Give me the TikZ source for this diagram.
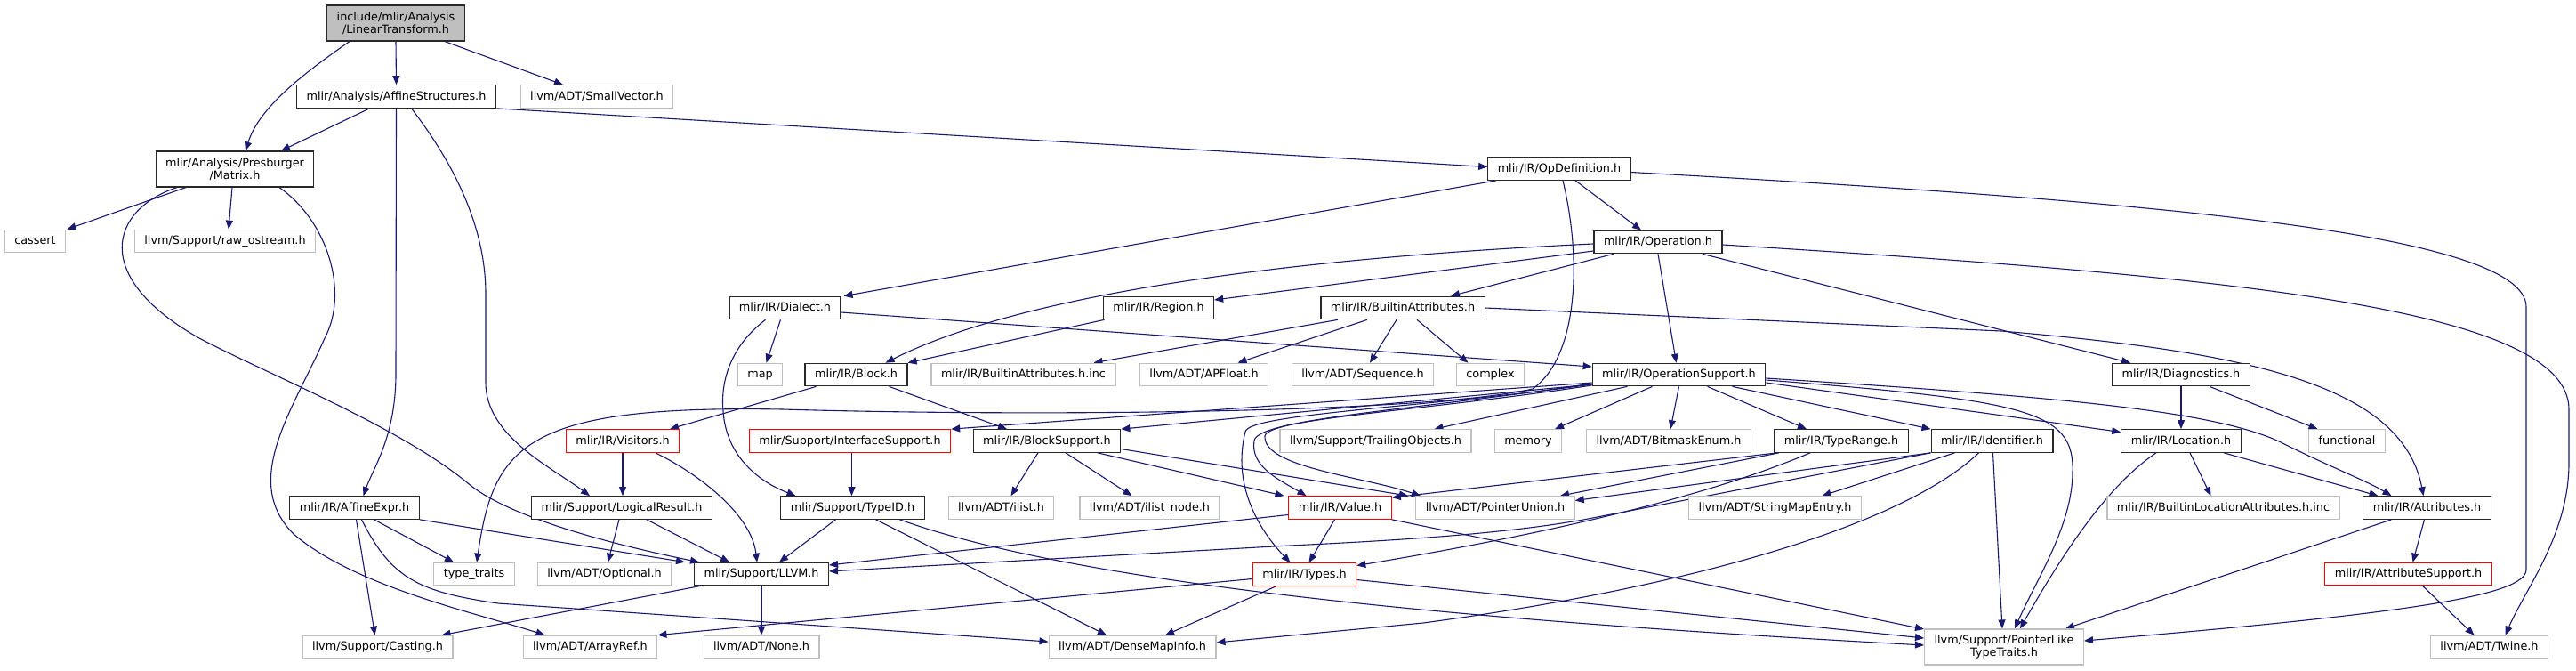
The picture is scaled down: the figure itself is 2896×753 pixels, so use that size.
\documentclass[tikz,border=0pt]{standalone}
\usepackage{fontspec}
\setmainfont{DejaVu Sans}
\usetikzlibrary{arrows.meta}
\definecolor{edgec}{RGB}{25,25,112}
\definecolor{greyb}{RGB}{191,191,191}
\definecolor{nodeb}{RGB}{40,40,40}
\pgfdeclarelayer{bg}
\pgfsetlayers{bg,main}
\begin{document}
\begin{tikzpicture}[x=1pt,y=-1pt,
  nb/.style={draw=nodeb, line width=1.2pt, fill=white, inner xsep=11pt, inner ysep=1pt,
    minimum height=25.5pt, font=\fontsize{12.8}{14.5}\selectfont, align=center, text=black},
  box/.style={nb, text height=9.6pt, text depth=2.6pt},
  ext/.style={box, draw=greyb},
  trunc/.style={box, draw=red},
  box2/.style={nb, minimum height=40pt},
  ext2/.style={box2, draw=greyb},
  root2/.style={box2, fill=greyb},
  conn/.style={draw=edgec, line width=1.1pt, -{Triangle[length=10pt,width=8pt]}}]
\useasboundingbox (0,0) rectangle (2896,753);
% nodes
\node[root2] (lt) at (445,26) {include/mlir/Analysis\\/LinearTransform.h};
\node[box] (as) at (445.5,108.5) {mlir/Analysis/AffineStructures.h};
\node[ext] (sv) at (671,108.5) {llvm/ADT/SmallVector.h};
\node[box2] (mx) at (264,190) {mlir/Analysis/Presburger\\/Matrix.h};
\node[ext] (cas) at (39.5,271) {cassert};
\node[ext] (raw) at (253,271) {llvm/Support/raw\_ostream.h};
\node[box] (opd) at (1753,189.5) {mlir/IR/OpDefinition.h};
\node[box] (op) at (1864,272) {mlir/IR/Operation.h};
\node[box] (dia) at (882.5,346) {mlir/IR/Dialect.h};
\node[box] (reg) at (1302.5,346) {mlir/IR/Region.h};
\node[box] (ba) at (1577,346) {mlir/IR/BuiltinAttributes.h};
\node[ext] (map) at (854.5,421) {map};
\node[box] (blk) at (962.5,421) {mlir/IR/Block.h};
\node[ext] (bainc) at (1150.5,421) {mlir/IR/BuiltinAttributes.h.inc};
\node[ext] (apf) at (1353.5,421) {llvm/ADT/APFloat.h};
\node[ext] (seq) at (1532,421) {llvm/ADT/Sequence.h};
\node[ext] (cpx) at (1675.5,421) {complex};
\node[box] (ops) at (1887.5,421) {mlir/IR/OperationSupport.h};
\node[box] (dg) at (2452,421) {mlir/IR/Diagnostics.h};
\node[trunc] (vis) at (700,495.5) {mlir/IR/Visitors.h};
\node[trunc] (ifs) at (955.5,495.5) {mlir/Support/InterfaceSupport.h};
\node[box] (bs) at (1177,495.5) {mlir/IR/BlockSupport.h};
\node[ext] (tro) at (1546.5,495.5) {llvm/Support/TrailingObjects.h};
\node[ext] (mem) at (1718,495.5) {memory};
\node[ext] (bme) at (1876,495.5) {llvm/ADT/BitmaskEnum.h};
\node[box] (tr) at (2070,495.5) {mlir/IR/TypeRange.h};
\node[box] (idf) at (2239.5,495.5) {mlir/IR/Identifier.h};
\node[box] (loc) at (2452,495.5) {mlir/IR/Location.h};
\node[ext] (fun) at (2638.5,495.5) {functional};
\node[box] (ae) at (398.5,570.5) {mlir/IR/AffineExpr.h};
\node[box] (lr) at (699,570.5) {mlir/Support/LogicalResult.h};
\node[box] (tid) at (958.5,570.5) {mlir/Support/TypeID.h};
\node[ext] (il) at (1125.5,570.5) {llvm/ADT/ilist.h};
\node[ext] (iln) at (1292.5,570.5) {llvm/ADT/ilist\_node.h};
\node[trunc] (val) at (1506.5,570.5) {mlir/IR/Value.h};
\node[ext] (pu) at (1681,570.5) {llvm/ADT/PointerUnion.h};
\node[ext] (sme) at (1995.5,570.5) {llvm/ADT/StringMapEntry.h};
\node[ext] (bla) at (2499.5,570.5) {mlir/IR/BuiltinLocationAttributes.h.inc};
\node[box] (att) at (2728.5,570.5) {mlir/IR/Attributes.h};
\node[ext] (tt) at (533,645) {type\_traits};
\node[ext] (opt) at (679.5,645) {llvm/ADT/Optional.h};
\node[box] (llvm) at (856,645) {mlir/Support/LLVM.h};
\node[trunc] (ty) at (1466.5,645.5) {mlir/IR/Types.h};
\node[trunc] (asu) at (2707.5,645) {mlir/IR/AttributeSupport.h};
\node[ext] (cast) at (424.5,727) {llvm/Support/Casting.h};
\node[ext] (ar) at (663.5,727) {llvm/ADT/ArrayRef.h};
\node[ext] (non) at (856,727) {llvm/ADT/None.h};
\node[ext] (dmi) at (1273,727) {llvm/ADT/DenseMapInfo.h};
\node[ext2] (plt) at (2253,727) {llvm/Support/PointerLike\\TypeTraits.h};
\node[ext] (tw) at (2798.5,727) {llvm/ADT/Twine.h};
% edges
\begin{pgfonlayer}{bg}
\fill[white] (0,0) rectangle (2896,753);
\draw[conn] ([xshift=-52pt]lt.south) .. controls (330,90) and (290,125) .. ([xshift=12pt]mx.north);
\draw[conn] (lt.south) -- (as.north);
\draw[conn] ([xshift=55pt]lt.south) -- ([xshift=-38pt]sv.north);
\draw[conn] ([xshift=-30pt]as.south) -- ([xshift=52pt]mx.north);
\draw[conn] (as.south east) -- ([yshift=2pt]opd.west);
\draw[conn] (as.south) -- (445,420) .. controls (445,490) and (420,525) .. ([xshift=10pt]ae.north);
\draw[conn] ([xshift=17pt]as.south) .. controls (515,190) and (546,260) .. (546,330) -- (546,430) .. controls (546,490) and (620,525) .. ([xshift=-36pt]lr.north);
\draw[conn] ([xshift=-55pt]mx.south) -- ([xshift=36pt]cas.north);
\draw[conn] ([xshift=-3pt]mx.south) -- ([xshift=4pt]raw.north);
\draw[conn] ([xshift=-65pt]mx.south) .. controls (125,235) and (100,310) .. (224,380) .. controls (300,420) and (450,480) .. (526,543) .. controls (570,580) and (680,610) .. ([xshift=-70pt]llvm.north);
\draw[conn] ([xshift=50pt]mx.south) .. controls (370,250) and (392,330) .. (365,380) .. controls (330,460) and (270,540) .. (330,600) .. controls (400,660) and (540,690) .. ([xshift=-51pt]ar.north);
\draw[conn] ([xshift=22pt]ae.south) -- ([xshift=-23pt]tt.north);
\draw[conn] (ae.south east) -- ([xshift=-86pt]llvm.north);
\draw[conn] ([xshift=2pt]ae.south) -- ([xshift=-3pt]cast.north);
\draw[conn] ([xshift=8pt]ae.south) .. controls (440,650) and (470,665) .. (560,678) -- ([yshift=6pt]dmi.west);
\draw[conn] ([xshift=-3pt]lr.south) -- ([xshift=4pt]opt.north);
\draw[conn] ([xshift=28pt]lr.south) -- ([xshift=-36pt]llvm.north);
\draw[conn] (vis.south) -- ([xshift=1pt]lr.north);
\draw[conn] ([xshift=37pt]vis.south) .. controls (790,535) and (845,580) .. ([xshift=-5pt]llvm.north);
\draw[conn] ([xshift=-68pt]llvm.south) -- ([xshift=72pt]cast.north);
\draw[conn] (llvm.south) -- (non.north);
\draw[conn] ([xshift=18pt]opd.south) -- ([xshift=-19pt]op.north);
\draw[conn] ([xshift=-71pt]opd.south) -- ([xshift=66pt]dia.north);
\draw[conn] ([yshift=-4pt]opd.east) .. controls (2400,225) and (2840,260) .. (2840,345) -- (2840,640) .. controls (2840,670) and (2700,690) .. ([yshift=7pt]plt.east);
\draw[conn] ([xshift=4pt]opd.south) .. controls (1778,290) and (1775,400) .. (1723,437) .. controls (1600,465) and (1150,468) .. (880,460) .. controls (590,455) and (555,500) .. ([xshift=3pt]tt.north);
\draw[conn] ([yshift=-2pt]op.west) .. controls (1450,290) and (1150,330) .. ([xshift=33pt]blk.north);
\draw[conn] ([yshift=-10pt]op.west) -- ([yshift=9pt]reg.east);
\draw[conn] ([xshift=-50pt]op.south) -- ([xshift=54pt]ba.north);
\draw[conn] (op.south) -- ([xshift=-3pt]ops.north);
\draw[conn] ([xshift=50pt]op.south) -- ([xshift=-57pt]dg.north);
\draw[conn] ([yshift=-3pt]op.east) .. controls (2500,310) and (2888,345) .. (2888,460) -- (2888,520) .. controls (2888,600) and (2840,660) .. ([xshift=18pt]tw.north);
\draw[conn] ([xshift=-61pt]reg.south) -- (blk.north east);
\draw[conn] ([xshift=-73pt]ba.south) -- ([xshift=79pt]bainc.north);
\draw[conn] ([xshift=-40pt]ba.south) -- ([xshift=38pt]apf.north);
\draw[conn] ([xshift=-7pt]ba.south) -- ([xshift=8pt]seq.north);
\draw[conn] ([xshift=16pt]ba.south) -- ([xshift=-25pt]cpx.north);
\draw[conn] (ba.east) -- (2250,372) .. controls (2520,395) and (2700,430) .. ([xshift=-4pt]att.north);
\draw[conn] ([xshift=37pt]blk.south) -- ([xshift=-45pt]bs.north);
\draw[conn] ([xshift=-45pt]blk.south) -- ([xshift=53pt]vis.north);
\draw[conn] ([xshift=-5pt]dia.south) -- ([xshift=7pt]map.north);
\draw[conn] ([xshift=-22pt]dia.south) .. controls (820,390) and (810,430) .. (813,462) .. controls (816,510) and (850,540) .. ([xshift=-64pt]tid.north);
\draw[conn] ([yshift=-5pt]dia.east) -- ([yshift=9pt]ops.west);
\draw[conn] ([xshift=2pt]ifs.south) -- ([xshift=-1pt]tid.north);
\draw[conn] ([xshift=-10pt]bs.south) -- ([xshift=11pt]il.north);
\draw[conn] ([xshift=21pt]bs.south) -- ([xshift=-20pt]iln.north);
\draw[conn] ([xshift=57pt]bs.south) -- ([xshift=-63pt]val.north);
\draw[conn] ([yshift=-9pt]bs.east) -- ([xshift=-98pt]pu.north);
\draw[conn] ([xshift=-19pt]tid.south) -- ([xshift=20pt]llvm.north);
\draw[conn] ([xshift=26pt]tid.south) -- ([xshift=-29pt]dmi.north);
\draw[conn] ([xshift=53pt]tid.south) .. controls (1250,670) and (1800,705) .. ([yshift=2pt]plt.west);
\draw[conn] ([yshift=-8pt]val.west) -- ([yshift=10pt]llvm.east);
\draw[conn] ([xshift=-6pt]val.south) -- ([xshift=5pt]ty.north);
\draw[conn] (val.south east) -- ([yshift=20pt]plt.west);
\draw[conn] ([yshift=-5pt]ty.west) -- (ar.north east);
\draw[conn] ([xshift=-32pt]ty.south) -- ([xshift=37pt]dmi.north);
\draw[conn] ([yshift=-6pt]ty.east) -- ([yshift=10pt]plt.west);
\draw[conn] ([xshift=-72pt]tr.south) -- ([yshift=-2pt]val.north east);
\draw[conn] ([xshift=-70pt]tr.south) -- ([xshift=73pt]pu.north);
\draw[conn] ([xshift=-35pt]tr.south) .. controls (1950,545) and (1800,590) .. ([yshift=10pt]ty.east);
\draw[conn] ([xshift=-69pt]idf.south) -- (1780,584) .. controls (1700,598) and (1600,606) .. (1450,613) -- ([yshift=3pt]llvm.east);
\draw[conn] ([xshift=-69pt]idf.south) -- ([yshift=8pt]pu.east);
\draw[conn] ([xshift=-42pt]idf.south) -- ([xshift=53pt]sme.north);
\draw[conn] ([xshift=-15pt]idf.south) .. controls (2140,590) and (1900,660) .. (1600,700) -- ([yshift=5pt]dmi.east);
\draw[conn] ([xshift=1pt]idf.south) -- ([xshift=-2pt]plt.north);
\draw[conn] ([yshift=-9pt]ops.west) -- (ifs.north east);
\draw[conn] ([yshift=-11pt]ops.west) -- (bs.north east);
\draw[conn] ([xshift=-58pt]ops.south) -- ([xshift=66pt]tro.north);
\draw[conn] ([xshift=-30pt]ops.south) -- ([xshift=30pt]mem.north);
\draw[conn] (ops.south) -- ([xshift=2pt]bme.north);
\draw[conn] ([xshift=32pt]ops.south) -- ([xshift=-39pt]tr.north);
\draw[conn] ([xshift=60pt]ops.south) -- ([xshift=-69pt]idf.north);
\draw[conn] ([yshift=-9pt]ops.east) -- ([yshift=10pt]loc.west);
\draw[conn] ([yshift=-4pt]ops.east) .. controls (2300,445) and (2480,460) .. (2560,495) .. controls (2620,525) and (2660,540) .. ([xshift=-40pt]att.north);
\draw[conn] ([yshift=-6pt]ops.east) .. controls (2280,450) and (2332,462) .. (2330,530) .. controls (2330,590) and (2290,650) .. ([xshift=12pt]plt.north);
\draw[conn] ([yshift=-10pt]ops.west) .. controls (1600,460) and (1415,470) .. (1410,495) .. controls (1405,525) and (1440,540) .. ([xshift=-38pt]val.north);
\draw[conn] ([yshift=-11pt]ops.west) .. controls (1600,458) and (1405,465) .. (1400,485) .. controls (1385,545) and (1415,595) .. ([xshift=-16pt]ty.north);
\draw[conn] ([yshift=-12pt]ops.west) .. controls (1600,462) and (1425,470) .. (1422,490) .. controls (1420,525) and (1530,535) .. ([xshift=-84pt]pu.north);
\draw[conn] ([xshift=10pt]loc.south) -- ([xshift=-14pt]bla.north);
\draw[conn] ([xshift=48pt]loc.south) -- ([xshift=-55pt]att.north);
\draw[conn] ([xshift=-28pt]loc.south) .. controls (2370,545) and (2320,620) .. ([xshift=18pt]plt.north);
\draw[conn] (dg.south) -- (loc.north);
\draw[conn] ([xshift=32pt]dg.south) -- ([xshift=-33pt]fun.north);
\draw[conn] ([xshift=-3pt]att.south) -- ([xshift=5pt]asu.north);
\draw[conn] ([xshift=-40pt]att.south) -- ([xshift=69pt]plt.north);
\draw[conn] ([xshift=16pt]asu.south) -- ([xshift=-17pt]tw.north);
\end{pgfonlayer}
\end{tikzpicture}
\end{document}
